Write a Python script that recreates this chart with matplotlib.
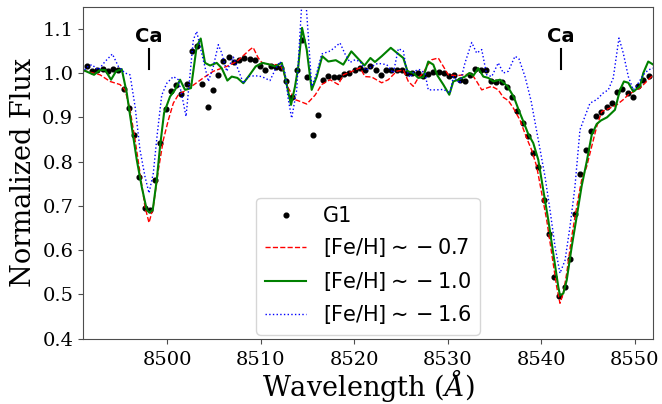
import numpy as np
import matplotlib
matplotlib.use("Agg")
import matplotlib.pyplot as plt

# observed spectrum G1 (regular pixel grid)
g1_wave = np.linspace(8491.38, 8551.48, 108)
g1_flux = [
    1.015, 1.005, 1.007, 1.010, 1.005, 1.010, 1.006, 0.964, 0.922, 0.860,
    0.765, 0.696, 0.691, 0.759, 0.842, 0.919, 0.960, 0.972, 0.953, 0.976,
    1.049, 1.062, 0.976, 0.923, 0.961, 0.996, 1.028, 1.036, 1.026, 1.029,
    1.035, 1.032, 1.030, 1.017, 1.007, 1.015, 1.014, 1.011, 0.983, 0.945,
    1.006, 1.074, 0.990, 0.859, 0.906, 0.985, 0.994, 0.990, 0.992, 0.998,
    1.000, 1.006, 1.011, 1.006, 1.015, 1.006, 0.995, 1.006, 1.006, 1.006,
    1.006, 1.000, 1.000, 1.000, 0.994, 0.998, 1.003, 1.002, 1.001, 0.994,
    0.995, 0.984, 0.982, 0.996, 1.010, 1.008, 1.006, 0.983, 0.979, 0.980,
    0.969, 0.947, 0.915, 0.888, 0.858, 0.820, 0.787, 0.713, 0.636, 0.540,
    0.497, 0.516, 0.581, 0.682, 0.772, 0.826, 0.870, 0.903, 0.913, 0.924,
    0.933, 0.958, 0.964, 0.955, 0.946, 0.971, 0.985, 0.994,
]

# model [Fe/H] ~ -0.7
m07_wave = [
    8490.98, 8492.80, 8493.87, 8494.94, 8495.48, 8496.01, 8496.55, 8497.08,
    8497.61, 8498.04, 8498.50, 8499.04, 8499.57, 8500.11, 8500.64, 8501.18,
    8502.07, 8503.85, 8504.92, 8506.35, 8507.42, 8508.84, 8509.17, 8509.70,
    8510.13, 8510.98, 8512.05, 8512.41, 8512.94, 8513.66, 8514.19, 8514.91,
    8515.80, 8516.51, 8517.40, 8518.29, 8518.82, 8519.89, 8520.61, 8521.14,
    8521.86, 8522.93, 8523.64, 8524.53, 8525.24, 8525.78, 8526.31, 8526.84,
    8527.38, 8527.74, 8528.28, 8528.98, 8529.52, 8530.05, 8530.95, 8531.66,
    8532.56, 8533.09, 8533.63, 8534.16, 8534.70, 8535.40, 8535.94, 8536.47,
    8537.01, 8537.72, 8538.44, 8538.97, 8539.51, 8540.04, 8540.58, 8541.11,
    8541.65, 8542.00, 8542.35, 8542.72, 8543.25, 8543.79, 8544.32, 8544.86,
    8545.39, 8545.93, 8546.46, 8547.35, 8548.06, 8548.77, 8549.31, 8549.84,
    8550.56, 8551.27, 8551.98,
]
m07_flux = [
    1.006, 0.996, 0.981, 0.974, 0.962, 0.917, 0.849, 0.774,
    0.698, 0.662, 0.698, 0.781, 0.849, 0.894, 0.932, 0.951,
    0.962, 0.989, 1.004, 1.015, 1.026, 1.053, 1.058, 1.035,
    1.023, 1.019, 1.019, 1.004, 0.966, 0.940, 0.936, 0.930,
    0.950, 0.974, 0.985, 0.974, 0.996, 1.005, 1.012, 0.992,
    0.991, 0.978, 0.985, 1.004, 1.007, 0.981, 0.970, 0.989,
    1.000, 1.015, 1.030, 1.034, 1.015, 0.996, 0.994, 0.996,
    0.998, 0.981, 0.962, 0.966, 0.970, 0.962, 0.945, 0.938,
    0.921, 0.894, 0.853, 0.826, 0.789, 0.729, 0.668, 0.593,
    0.517, 0.480, 0.502, 0.548, 0.630, 0.698, 0.759, 0.789,
    0.834, 0.879, 0.913, 0.921, 0.928, 0.940, 0.951, 0.958,
    0.966, 0.981, 0.996,
]

# model [Fe/H] ~ -1.0
m10_wave = [
    8490.98, 8492.16, 8492.80, 8493.34, 8493.98, 8494.51, 8495.12, 8495.66,
    8496.19, 8496.73, 8497.26, 8497.80, 8498.07, 8498.44, 8498.87, 8499.22,
    8499.65, 8500.29, 8500.82, 8501.36, 8501.89, 8502.53, 8503.14, 8503.57,
    8504.03, 8504.57, 8505.28, 8505.82, 8506.42, 8506.89, 8507.49, 8508.13,
    8508.74, 8509.45, 8510.16, 8510.80, 8511.52, 8512.24, 8512.59, 8513.23,
    8513.66, 8514.01, 8514.41, 8514.91, 8515.44, 8515.98, 8516.57, 8517.22,
    8518.02, 8518.82, 8519.68, 8520.43, 8521.09, 8521.72, 8522.21, 8522.93,
    8523.90, 8524.71, 8525.24, 8525.69, 8526.31, 8526.84, 8527.38, 8527.91,
    8528.45, 8528.90, 8529.52, 8530.16, 8530.59, 8531.12, 8531.84, 8532.30,
    8532.73, 8533.26, 8533.80, 8534.33, 8534.87, 8535.58, 8536.39, 8537.08,
    8537.61, 8538.15, 8538.61, 8539.14, 8539.68, 8540.21, 8540.75, 8541.28,
    8541.82, 8542.00, 8542.35, 8542.72, 8543.25, 8543.79, 8544.32, 8544.86,
    8545.39, 8545.93, 8546.39, 8547.03, 8547.88, 8548.42, 8548.84, 8549.31,
    8549.84, 8550.56, 8550.91, 8551.44, 8551.98,
]
m10_flux = [
    1.007, 0.996, 1.007, 1.007, 0.985, 1.004, 1.009, 0.955,
    0.879, 0.804, 0.743, 0.691, 0.685, 0.691, 0.759, 0.834,
    0.910, 0.947, 0.962, 0.985, 0.962, 0.966, 1.060, 1.078,
    1.023, 1.017, 1.023, 1.011, 0.983, 0.992, 0.989, 0.977,
    0.994, 1.015, 1.023, 1.020, 1.015, 1.023, 0.992, 0.928,
    0.970, 1.015, 1.102, 1.053, 0.962, 0.992, 1.038, 1.026,
    1.029, 1.019, 1.049, 1.032, 1.017, 1.034, 1.025, 1.038,
    1.057, 1.043, 1.034, 1.004, 1.000, 0.989, 0.991, 1.026,
    1.019, 0.994, 0.974, 0.951, 0.981, 0.985, 0.992, 1.000,
    0.994, 1.011, 0.992, 0.989, 0.981, 0.985, 0.970, 0.945,
    0.915, 0.887, 0.862, 0.842, 0.804, 0.736, 0.668, 0.593,
    0.517, 0.498, 0.502, 0.532, 0.607, 0.676, 0.745, 0.800,
    0.860, 0.885, 0.893, 0.900, 0.917, 0.962, 0.981, 0.978,
    0.958, 0.970, 1.000, 1.026, 1.019,
]

# model [Fe/H] ~ -1.6
m16_wave = [
    8490.98, 8491.30, 8491.91, 8492.62, 8493.34, 8494.12, 8494.76, 8495.48,
    8496.01, 8496.55, 8497.08, 8497.61, 8498.04, 8498.50, 8498.93, 8499.40,
    8499.94, 8500.64, 8501.18, 8501.54, 8502.00, 8502.78, 8503.14, 8503.50,
    8504.03, 8504.39, 8504.92, 8505.45, 8505.82, 8506.35, 8507.06, 8507.59,
    8508.13, 8508.66, 8509.38, 8510.10, 8510.98, 8511.52, 8512.05, 8512.59,
    8512.94, 8513.30, 8513.84, 8514.19, 8514.48, 8514.73, 8515.08, 8515.44,
    8515.98, 8516.51, 8517.45, 8518.47, 8519.01, 8519.54, 8520.08, 8520.61,
    8521.23, 8521.86, 8522.53, 8523.47, 8524.17, 8524.71, 8525.24, 8525.60,
    8525.96, 8526.39, 8526.92, 8527.56, 8527.91, 8528.81, 8529.52, 8530.24,
    8530.59, 8531.30, 8531.84, 8532.56, 8533.09, 8533.63, 8534.16, 8534.70,
    8535.40, 8535.94, 8536.47, 8537.19, 8537.61, 8538.26, 8538.90, 8539.68,
    8540.40, 8540.93, 8541.47, 8542.00, 8542.54, 8543.07, 8543.60, 8544.14,
    8544.67, 8545.21, 8545.93, 8546.63, 8547.17, 8547.70, 8548.31, 8548.77,
    8549.31, 8549.84, 8550.37, 8550.91, 8551.44, 8551.98,
]
m16_flux = [
    1.000, 1.012, 1.019, 1.007, 1.026, 1.043, 1.015, 1.000,
    0.996, 0.924, 0.826, 0.766, 0.729, 0.774, 0.864, 0.950,
    0.977, 0.992, 0.985, 0.951, 0.902, 1.075, 1.094, 1.060,
    1.013, 0.981, 1.015, 1.064, 1.045, 1.004, 1.036, 1.007,
    0.977, 0.992, 0.994, 0.992, 0.983, 1.007, 1.026, 1.000,
    0.940, 0.898, 0.962, 1.091, 1.190, 1.190, 1.083, 0.970,
    1.000, 1.043, 1.050, 1.068, 1.043, 1.024, 1.030, 1.026,
    1.006, 1.015, 1.022, 1.019, 1.000, 1.055, 1.050, 1.006,
    0.990, 1.004, 1.008, 1.000, 0.962, 0.962, 0.963, 0.955,
    0.992, 0.977, 1.023, 1.069, 1.045, 1.053, 0.996, 0.992,
    1.023, 1.000, 1.004, 1.038, 1.032, 0.992, 0.938, 0.849,
    0.766, 0.691, 0.608, 0.548, 0.577, 0.653, 0.743, 0.872,
    0.902, 0.932, 0.940, 0.955, 0.962, 0.989, 1.079, 1.045,
    0.992, 0.962, 0.977, 0.996, 1.007, 1.011,
]

ca_lines = [8498.02, 8542.09]
x_ticks = [8500, 8510, 8520, 8530, 8540, 8550]
y_ticks = [0.4, 0.5, 0.6, 0.7, 0.8, 0.9, 1.0, 1.1]

fig = plt.figure(figsize=(6.62, 4.04), dpi=100)
ax = fig.add_axes([0.1254, 0.1616, 0.861, 0.822])

ax.plot(g1_wave, g1_flux, 'o', color='black', markersize=3.4, label='G1')
ax.plot(m07_wave, m07_flux, '--', color='red', lw=1.0, label=r'[Fe/H]$\sim-0.7$')
ax.plot(m10_wave, m10_flux, '-', color='green', lw=1.5, label=r'[Fe/H]$\sim-1.0$')
ax.plot(m16_wave, m16_flux, ':', color='blue', lw=1.0, label=r'[Fe/H]$\sim-1.6$')

for ca in ca_lines:
    ax.plot([ca, ca], [1.01, 1.055], '-', color='black', lw=1.5)
    ax.text(ca, 1.07, 'Ca', ha='center', va='baseline', fontsize=14,
            fontweight='bold', family='DejaVu Sans')

ax.set_xlim(8490.98, 8551.95)
ax.set_ylim(0.4, 1.15)
ax.set_xticks(x_ticks)
ax.set_yticks(y_ticks)
ax.set_yticklabels(['%.1f' % v for v in y_ticks])
for lab in ax.get_xticklabels() + ax.get_yticklabels():
    lab.set_family('DejaVu Serif')
    lab.set_fontsize(14)

for sp in ax.spines.values():
    sp.set_color('0.3')
ax.tick_params(color='0.3')
ax.tick_params(axis='x', pad=5)

ax.set_xlabel(r'Wavelength ($\AA$)', fontsize=19.5, family='DejaVu Serif',
              math_fontfamily='dejavuserif', labelpad=-1)
ax.set_ylabel('Normalized Flux', fontsize=19.5, family='DejaVu Serif')

ax.legend(loc='lower center', numpoints=1, borderaxespad=0.2,
          prop={'family': 'DejaVu Sans', 'size': 15})

fig.savefig('out.png', dpi=100)
